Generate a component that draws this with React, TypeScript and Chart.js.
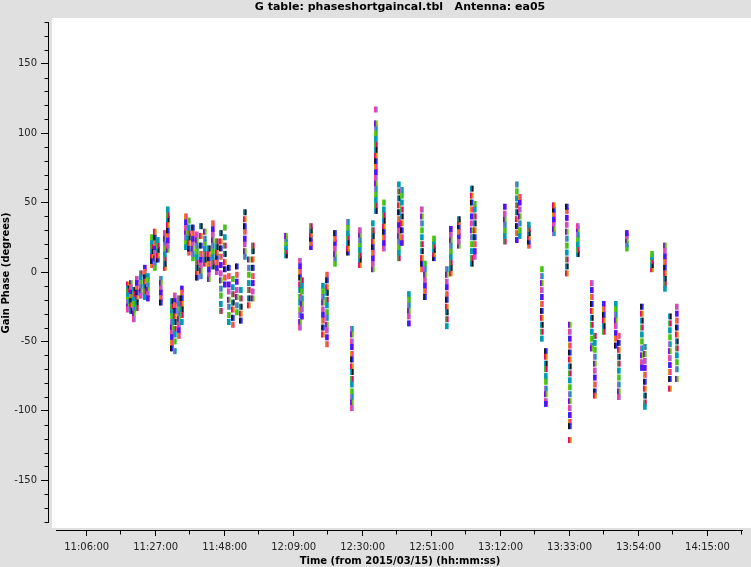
import React, { useEffect, useRef } from 'react';
import { Chart, registerables } from 'chart.js';

Chart.register(...registerables);

const TITLE = 'G table: phaseshortgaincal.tbl   Antenna: ea05';
const X_TITLE = 'Time (from 2015/03/15) (hh:mm:ss)';
const Y_TITLE = 'Gain Phase (degrees)';

const X_TICK_LABELS = ['11:06:00', '11:27:00', '11:48:00', '12:09:00', '12:30:00', '12:51:00', '13:12:00', '13:33:00', '13:54:00', '14:15:00'];
const X_MIN_TIME = '10:54:31';
const X_MAX_TIME = '14:25:30';
const Y_TICKS = [-150, -100, -50, 0, 50, 100, 150];
const Y_MIN = -185.76;
const Y_MAX = 180;

const SCAN_TIMES = [
  '11:18:16', '11:19:11', '11:20:06', '11:21:00', '11:22:13', '11:23:26', '11:24:22', '11:25:35',
  '11:26:29', '11:27:24', '11:28:19', '11:29:32', '11:30:26', '11:31:40', '11:32:35', '11:33:48',
  '11:34:43', '11:35:56', '11:36:50', '11:38:04', '11:39:17', '11:40:30', '11:41:43', '11:42:56',
  '11:44:09', '11:45:22', '11:46:35', '11:47:48', '11:49:01', '11:50:14', '11:51:27', '11:52:40',
  '11:53:53', '11:55:06', '11:56:19',
  '12:06:25', '12:10:41', '12:11:17', '12:14:00', '12:17:40', '12:18:53', '12:21:19', '12:25:16',
  '12:26:29', '12:28:55', '12:32:52', '12:33:47', '12:36:13', '12:40:47', '12:41:42', '12:43:50',
  '12:47:48', '12:48:43', '12:51:27', '12:55:23', '12:56:36', '12:59:02', '13:02:59', '13:03:54',
  '13:13:02', '13:16:41', '13:17:36', '13:20:21', '13:24:19', '13:25:32', '13:27:58', '13:31:55',
  '13:32:50', '13:35:16', '13:39:32', '13:40:27', '13:43:10', '13:46:50', '13:47:45', '13:50:11',
  '13:54:46', '13:55:41', '13:57:50', '14:01:47', '14:03:18', '14:05:25',
];

const SCAN_PHASES = [
  [-9, -12, -14, -17, -20, -22, -25, -27],
  [-8, -11, -15, -18, -21, -24, -28],
  [-13, -16, -20, -23, -27, -30, -34],
  [-5, -8, -12, -15, -19, -22, -26],
  [-1, -4, -8, -11, -14, -17],
  [3, 0, -4, -7, -11, -14, -18],
  [-3, -6, -10, -13, -16, -19],
  [5, 8, 12, 15, 19, 22, 25],
  [3, 7, 10, 14, 18, 21, 25, 29],
  [9, 12, 16, 19, 23],
  [-5, -8, -12, -15, -19, -22],
  [3, 6, 10, 13, 17, 21, 24, 28],
  [16, 19, 23, 27, 30, 34, 38, 41, 45],
  [-21, -25, -29, -32, -36, -40, -44, -47, -51, -55],
  [-17, -21, -24, -28, -32, -36, -41, -45, -50, -57],
  [-19, -23, -27, -30, -34, -38, -42, -46],
  [-12, -15, -19, -23, -27, -31, -36],
  [18, 22, 25, 29, 32, 36, 40],
  [14, 17, 21, 25, 28, 32, 37],
  [10, 13, 17, 21, 24, 28, 32],
  [-4, 0, 3, 7, 11, 15, 19, 23, 27],
  [-3, 1, 5, 9, 13, 19, 26, 33],
  [6, 9, 13, 17, 21, 24, 29],
  [-5, -1, 2, 6, 10, 13, 17],
  [4, 7, 11, 15, 19, 23, 27, 31, 35],
  [0, 3, 7, 11, 14, 18, 22],
  [-28, -23, -17, -12, -6, -1, 5, 11, 17, 22, 28],
  [-9, -4, 2, 7, 13, 19, 25, 32],
  [-36, -31, -25, -20, -14, -9, -3, 3],
  [-38, -33, -27, -22, -16, -11, -5],
  [-29, -24, -18, -13, -7, -2, 4],
  [-35, -30, -25, -19, -13],
  [11, 15, 20, 24, 29, 33, 38, 43],
  [-24, -19, -13, -8, -2, 3, 9],
  [-19, -14, -8, -3, 3, 9, 15, 19],
  [12, 15, 18, 21, 24, 26],
  [8, 4, 0, -4, -9, -13, -18, -22, -27, -31, -36, -40],
  [-6, -10, -14, -19, -23, -27, -32],
  [18, 21, 24, 27, 30, 33],
  [-10, -14, -18, -22, -27, -31, -35, -40, -45],
  [-2, -6, -11, -15, -20, -24, -29, -33, -38, -42, -47, -52],
  [6, 10, 13, 17, 21, 24, 28],
  [14, 17, 21, 25, 28, 32, 36],
  [-41, -45, -50, -54, -59, -63, -68, -72, -77, -81, -86, -90, -94, -98],
  [5, 9, 12, 16, 20, 23, 27, 30],
  [2, 6, 10, 14, 18, 22, 26, 30, 35],
  [44, 48, 52, 56, 60, 64, 68, 72, 76, 80, 84, 88, 92, 96, 100, 104, 107, 117],
  [17, 21, 25, 29, 33, 37, 41, 45, 50],
  [10, 14, 18, 22, 26, 30, 34, 38, 43, 48, 53, 58, 63],
  [21, 25, 30, 35, 40, 45, 50, 55, 59],
  [-16, -20, -24, -28, -32, -37],
  [2, 6, 10, 15, 20, 25, 30, 35, 40, 45],
  [6, 2, -2, -6, -10, -14, -18],
  [10, 13, 16, 19, 22, 24],
  [2, -2, -7, -11, -16, -20, -25, -29, -34, -39],
  [-1, 3, 7, 11, 15, 19, 23, 27, 31],
  [19, 22, 26, 29, 33, 36, 38],
  [6, 10, 15, 20, 25, 30, 35, 40, 45, 50, 55, 60],
  [11, 15, 20, 25, 30, 35, 40, 45, 49],
  [22, 26, 30, 34, 38, 42, 47],
  [23, 28, 33, 38, 43, 48, 53, 58, 63],
  [26, 30, 35, 40, 45, 50, 54],
  [19, 22, 25, 28, 31, 34],
  [2, -3, -8, -13, -18, -23, -28, -33, -38, -43, -48],
  [-57, -61, -66, -70, -75, -79, -84, -88, -93, -95],
  [28, 31, 35, 38, 42, 45, 48],
  [-1, 4, 9, 14, 19, 24, 29, 34, 39, 44, 47],
  [-38, -43, -48, -53, -58, -63, -68, -73, -78, -83, -88, -93, -98, -103, -108, -111, -121],
  [13, 16, 20, 24, 27, 31, 33],
  [-8, -13, -18, -23, -28, -33, -38, -43, -48, -53, -55],
  [-46, -51, -56, -61, -66, -71, -76, -81, -86, -89],
  [-23, -27, -31, -35, -39, -43],
  [-23, -27, -31, -35, -39, -44, -48, -53],
  [-46, -51, -56, -61, -66, -71, -76, -81, -86, -90],
  [17, 20, 23, 26, 28],
  [-25, -30, -35, -40, -45, -50, -55, -60, -65, -69],
  [-54, -59, -64, -69, -74, -79, -84, -89, -94, -97],
  [2, 5, 8, 11, 13],
  [19, 15, 11, 7, 3, -1, -5, -9, -12],
  [-32, -37, -42, -47, -52, -57, -62, -67, -72, -77, -84],
  [-25, -30, -35, -40, -45, -50, -55, -60, -65, -70, -77],
];

const PALETTE = ['#e8006f', '#66cc00', '#2a2aff', '#0099c6', '#a068e0', '#d98c00', '#33bb33', '#7a00e6', '#111111', '#00a0a0', '#ff3399'];
const SUB_OFFSETS = [0, 30];

const toSec = (s: string) => {
  const [h, m, sec] = s.split(':').map(Number);
  return h * 3600 + m * 60 + sec;
};
const pad = (n: number) => String(n).padStart(2, '0');
const fmt = (v: number) => {
  const t = Math.round(v);
  return `${pad(Math.floor(t / 3600))}:${pad(Math.floor((t % 3600) / 60))}:${pad(t % 60)}`;
};

const FONT = 'DejaVu Sans';

const framePlugin = {
  id: 'frame',
  beforeDraw(chart: any) {
    const { ctx, width, height } = chart;
    ctx.save();
    ctx.fillStyle = '#e0e0e0';
    ctx.fillRect(0, 0, width, height);
    ctx.fillStyle = '#ffffff';
    ctx.fillRect(52, 18, width - 52, 510);
    ctx.restore();
  },
  afterDraw(chart: any) {
    const { ctx, chartArea } = chart;
    const xs = chart.scales.x;
    const ys = chart.scales.y;
    ctx.save();
    ctx.strokeStyle = '#000';
    ctx.lineWidth = 1;
    const yl = Math.round(chartArea.left) - 0.5;
    const yTop = Math.round(ys.getPixelForValue(180));
    const yBot = Math.round(ys.getPixelForValue(-180));
    ctx.beginPath();
    ctx.moveTo(yl, yTop);
    ctx.lineTo(yl, yBot + 1);
    for (let v = -180; v <= 180; v += 10) {
      if (v % 50 === 0) continue;
      const py = Math.round(ys.getPixelForValue(v)) + 0.5;
      ctx.moveTo(yl - 4, py);
      ctx.lineTo(yl, py);
    }
    const xb = Math.round(chartArea.bottom) + 0.5;
    ctx.moveTo(56, xb);
    ctx.lineTo(Math.round(chartArea.right) + 1, xb);
    X_TICK_LABELS.forEach((l) => {
      const v = toSec(l) + 630;
      if (v > xs.max) return;
      const px = Math.round(xs.getPixelForValue(v)) - 0.5;
      ctx.moveTo(px, xb);
      ctx.lineTo(px, xb + 4);
    });
    ctx.stroke();

    ctx.fillStyle = '#000';
    ctx.textAlign = 'center';
    ctx.textBaseline = 'middle';
    ctx.font = `bold 11px "${FONT}"`;
    ctx.fillText(TITLE, 400, 7);
    ctx.font = `bold 10px "${FONT}"`;
    ctx.fillText(X_TITLE, 400, 561);
    ctx.translate(6, 273);
    ctx.rotate(-Math.PI / 2);
    ctx.fillText(Y_TITLE, 0, 0);
    ctx.restore();
  },
};

export default function App() {
  const ref = useRef<HTMLCanvasElement | null>(null);

  useEffect(() => {
    if (!ref.current) return;
    const points: { x: number; y: number }[] = [];
    const colors: string[] = [];
    SCAN_TIMES.forEach((ts, si) => {
      const t = toSec(ts);
      SCAN_PHASES[si].forEach((v, j) => {
        SUB_OFFSETS.forEach((off, k) => {
          points.push({ x: t + off, y: v });
          colors.push(PALETTE[(si * 7 + j * 3 + k * 5) % PALETTE.length]);
        });
      });
    });

    const chart = new Chart(ref.current, {
      type: 'scatter',
      data: {
        datasets: [
          {
            label: 'phase',
            data: points,
            pointStyle: 'line',
            rotation: 90,
            pointRadius: 3,
            pointHoverRadius: 3,
            borderWidth: 2,
            pointBorderColor: colors,
            pointBackgroundColor: colors,
            showLine: false,
          } as any,
        ],
      },
      options: {
        responsive: false,
        animation: false,
        devicePixelRatio: 1,
        layout: { padding: { top: 22, right: 9, bottom: 0, left: 0 } },
        plugins: {
          legend: { display: false },
          title: { display: false },
          tooltip: { enabled: false },
        },
        events: [],
        scales: {
          x: {
            type: 'linear',
            position: 'bottom',
            min: toSec(X_MIN_TIME),
            max: toSec(X_MAX_TIME),
            afterBuildTicks: (s: any) => {
              s.ticks = X_TICK_LABELS.map((l) => ({ value: toSec(l) }));
            },
            afterFit: (s: any) => {
              s.height = 37;
            },
            border: { display: false },
            grid: { drawOnChartArea: false, drawTicks: true, tickLength: 6, color: '#000', tickColor: '#000' },
            ticks: {
              autoSkip: false,
              maxRotation: 0,
              padding: 5,
              color: '#222',
              font: { family: FONT, size: 10 },
              callback: (v: any) => fmt(Number(v)),
            },
          },
          y: {
            type: 'linear',
            position: 'left',
            min: Y_MIN,
            max: Y_MAX,
            afterBuildTicks: (s: any) => {
              s.ticks = Y_TICKS.map((v) => ({ value: v }));
            },
            afterFit: (s: any) => {
              s.width = 49;
            },
            border: { display: false },
            grid: { drawOnChartArea: false, drawTicks: true, tickLength: 8, color: '#000', tickColor: '#000' },
            ticks: {
              padding: 4,
              color: '#222',
              font: { family: FONT, size: 10 },
              callback: (v: any) => String(v),
            },
          },
        },
      },
      plugins: [framePlugin],
    });
    return () => chart.destroy();
  }, []);

  return (
    <div style={{ position: 'fixed', left: 0, top: 0, width: 751, height: 567, background: '#e0e0e0' }}>
      <canvas ref={ref} width={751} height={567} style={{ display: 'block', width: 751, height: 567 }} />
    </div>
  );
}
